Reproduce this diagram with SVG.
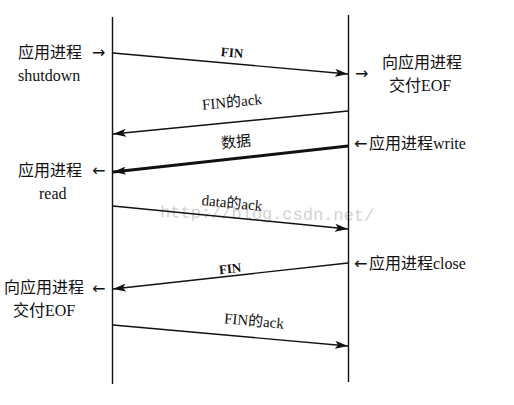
<svg xmlns="http://www.w3.org/2000/svg" width="514" height="405" viewBox="0 0 514 405">
<style>
text{font-family:"Liberation Serif","DejaVu Serif",serif;fill:#111}
.cjk{font-family:"Noto Sans CJK SC",sans-serif}
.lbl{font-size:16px}
.msg{font-size:15px}
.fin{font-size:13px;font-weight:bold}
.arr{font-size:16px;font-family:"DejaVu Sans",sans-serif}
.ln{stroke:#111;stroke-width:1.4;fill:none}
.thick{stroke:#111;stroke-width:3;fill:none}
.wm{font-family:"Liberation Mono",monospace;font-size:17px;fill:#d2d2d2}
</style>
<defs>
<marker id="ah" markerUnits="userSpaceOnUse" markerWidth="14" markerHeight="8" refX="13" refY="4" orient="auto">
<path d="M0,0 L13,4 L0,8 L3,4 Z" fill="#111"/>
</marker>
</defs>
<rect width="514" height="405" fill="#fff"/>
<text class="wm" x="160" y="219" transform="rotate(1 265 213)">http://blog.csdn.net/</text>
<g id="lifelines">
<line class="ln" x1="112.5" y1="17" x2="112.5" y2="384"/>
<line class="ln" x1="348.5" y1="15" x2="348.5" y2="382"/>
</g>
<g id="connectors">
<line class="ln" x1="113" y1="53" x2="348" y2="74" marker-end="url(#ah)"/>
<line class="ln" x1="348" y1="111" x2="113" y2="134" marker-end="url(#ah)"/>
<line class="thick" x1="348" y1="146" x2="113" y2="172" marker-end="url(#ah)"/>
<line class="ln" x1="113" y1="206" x2="348" y2="229" marker-end="url(#ah)"/>
<line class="ln" x1="348" y1="263" x2="113" y2="289" marker-end="url(#ah)"/>
<line class="ln" x1="113" y1="325" x2="348" y2="346" marker-end="url(#ah)"/>
<text class="fin" x="232" y="57" text-anchor="middle" transform="rotate(5 232 53)">FIN</text>
<text class="msg" x="232" y="107" text-anchor="middle" transform="rotate(-5.5 232 103)">FIN<tspan class="cjk">的</tspan>ack</text>
<text class="msg cjk" x="236" y="147" text-anchor="middle" transform="rotate(-5.5 236 142)">数据</text>
<text class="msg" x="232" y="208" text-anchor="middle" transform="rotate(5.5 232 203)">data<tspan class="cjk">的</tspan>ack</text>
<text class="fin" x="230" y="273" text-anchor="middle" transform="rotate(-6 230 268)">FIN</text>
<text class="msg" x="254" y="326" text-anchor="middle" transform="rotate(5 254 321)">FIN<tspan class="cjk">的</tspan>ack</text>
</g>
<g id="shutdown">
<text class="lbl cjk" x="18" y="58">应用进程</text>
<text class="arr" x="92" y="58">→</text>
<text class="lbl" x="18" y="81">shutdown</text>
</g>
<g id="eof-right">
<text class="arr" x="355" y="79">→</text>
<text class="lbl cjk" x="382" y="68">向应用进程</text>
<text class="lbl" x="389" y="91"><tspan class="cjk">交付</tspan>EOF</text>
</g>
<g id="write">
<text class="arr" x="354" y="149">←</text>
<text class="lbl" x="369" y="149"><tspan class="cjk">应用进程</tspan>write</text>
</g>
<g id="read">
<text class="lbl cjk" x="18" y="176">应用进程</text>
<text class="arr" x="92" y="176">←</text>
<text class="lbl" x="39" y="199">read</text>
</g>
<g id="close">
<text class="arr" x="354" y="269">←</text>
<text class="lbl" x="369" y="269"><tspan class="cjk">应用进程</tspan>close</text>
</g>
<g id="eof-left">
<text class="lbl cjk" x="4" y="293">向应用进程</text>
<text class="arr" x="92" y="294">←</text>
<text class="lbl" x="13" y="316"><tspan class="cjk">交付</tspan>EOF</text>
</g>
</svg>
